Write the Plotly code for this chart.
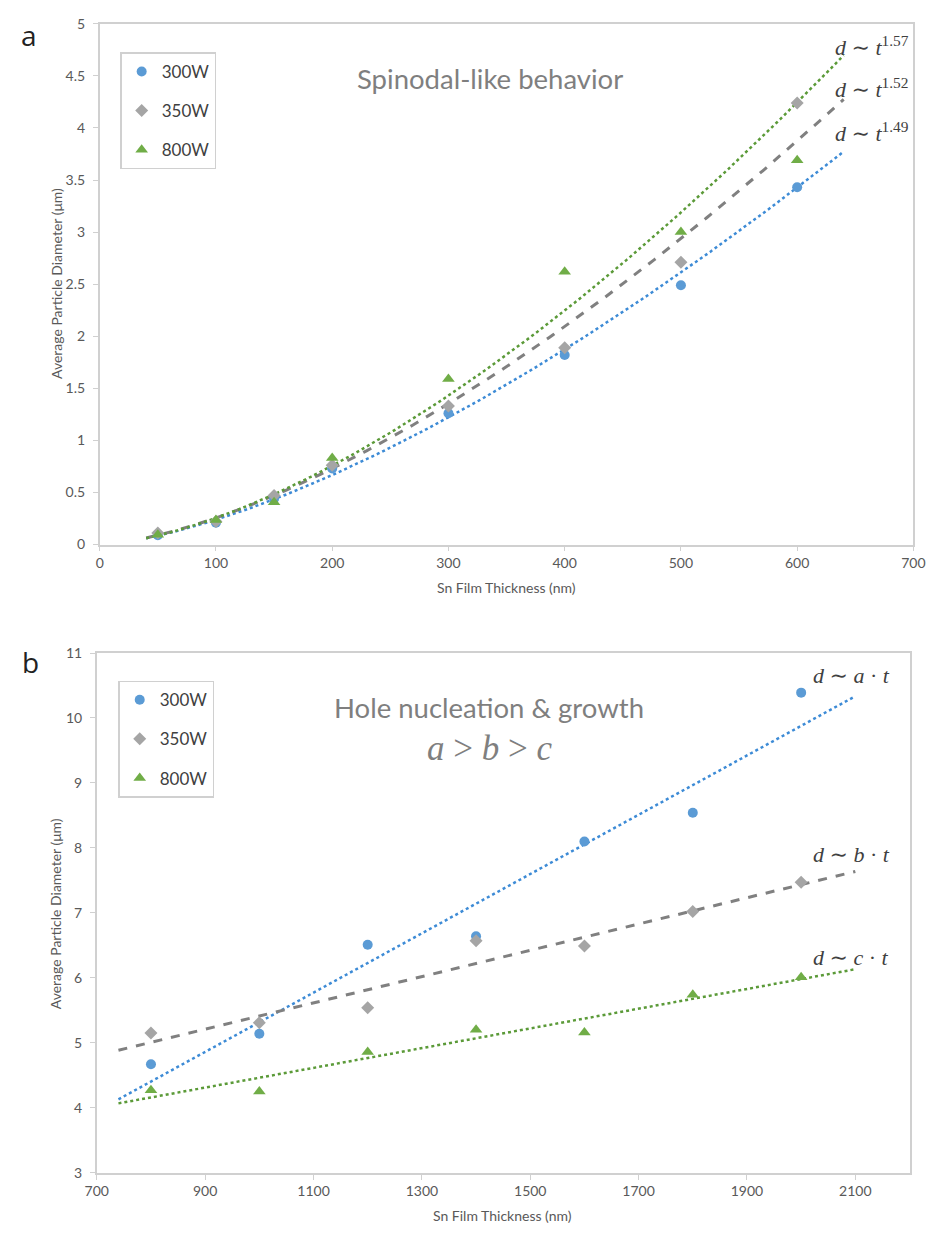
import numpy as np
import plotly.graph_objects as go

# ---- Panel a: thin films (spinodal-like dewetting) ----
thick_a = [50, 100, 150, 200, 300, 400, 500, 600]
d_300w_a = [0.09, 0.21, 0.44, 0.73, 1.26, 1.82, 2.49, 3.43]
d_350w_a = [0.11, 0.22, 0.47, 0.76, 1.33, 1.89, 2.71, 4.24]
d_800w_a = [0.095, 0.235, 0.405, 0.83, 1.59, 2.62, 3.00, 3.69]
exponents_a = {"300W": 1.49, "350W": 1.52, "800W": 1.57}
fit_span_a = (40, 640)

# ---- Panel b: thick films (hole nucleation & growth) ----
thick_b = [800, 1000, 1200, 1400, 1600, 1800, 2000]
d_300w_b = [4.67, 5.14, 6.51, 6.64, 8.10, 8.54, 10.39]
d_350w_b = [5.15, 5.31, 5.54, 6.57, 6.49, 7.02, 7.47]
d_800w_b = [4.27, 4.25, 4.86, 5.20, 5.16, 5.74, 6.01]
fit_span_b = (740, 2100)

labels = ["300W", "350W", "800W"]
marker_colors = {"300W": "#5B9BD5", "350W": "#A5A5A5", "800W": "#70AD47"}
marker_symbols = {"300W": "circle", "350W": "diamond", "800W": "triangle-up"}
marker_sizes = {"300W": 10, "350W": 10, "800W": 11}
fit_styles = {
    "300W": dict(color="#3D8BD6", dash="dot", width=2.5),
    "350W": dict(color="#808080", dash="dash", width=3),
    "800W": dict(color="#5B9A38", dash="dot", width=2.5),
}

W, H = 941, 1235
SANS = "Lato, Open Sans, sans-serif"
TICK_FONT = dict(family=SANS, size=14, color="#595959")
AXIS_COLOR = "#D0D0D0"
MATH_FONT = dict(family="Liberation Serif, DejaVu Serif, serif", size=22, color="#404040")

fig = go.Figure()

series_a = {"300W": d_300w_a, "350W": d_350w_a, "800W": d_800w_a}
series_b = {"300W": d_300w_b, "350W": d_350w_b, "800W": d_800w_b}

# Power-law trend lines d = A t^p, with p as printed, A from a log-space fit
for lab in labels:
    t = np.array(thick_a, float)
    d = np.array(series_a[lab], float)
    p = exponents_a[lab]
    lnA = np.mean(np.log(d) - p * np.log(t))
    tx = np.linspace(fit_span_a[0], fit_span_a[1], 200)
    fig.add_trace(go.Scatter(x=tx, y=np.exp(lnA) * tx ** p, mode="lines",
                             line=fit_styles[lab], showlegend=False,
                             hoverinfo="skip", xaxis="x", yaxis="y"))

# Linear trend lines for panel b
for lab in labels:
    slope, icpt = np.polyfit(thick_b, series_b[lab], 1)
    tx = np.array(fit_span_b, float)
    fig.add_trace(go.Scatter(x=tx, y=slope * tx + icpt, mode="lines",
                             line=fit_styles[lab], showlegend=False,
                             hoverinfo="skip", xaxis="x2", yaxis="y2"))

for lab in labels:
    mk = dict(color=marker_colors[lab], symbol=marker_symbols[lab], size=marker_sizes[lab])
    fig.add_trace(go.Scatter(x=thick_a, y=series_a[lab], mode="markers", name=lab,
                             marker=mk, legend="legend", legendgroup="a" + lab,
                             xaxis="x", yaxis="y"))
    fig.add_trace(go.Scatter(x=thick_b, y=series_b[lab], mode="markers", name=lab,
                             marker=mk, legend="legend2", legendgroup="b" + lab,
                             xaxis="x2", yaxis="y2"))

def py(px):
    return 1 - px / H

def px_x(px):
    return px / W

axis_common = dict(showgrid=False, zeroline=False, showline=True, linecolor=AXIS_COLOR,
                   linewidth=1.5, mirror=True, ticks="outside", ticklen=5,
                   tickcolor=AXIS_COLOR, tickfont=TICK_FONT)

legend_common = dict(bgcolor="white", bordercolor="#D0D0D0", borderwidth=1.5,
                     font=dict(family=SANS, size=17, color="#404040"),
                     tracegroupgap=14, xanchor="left", yanchor="top", itemwidth=30)

fig.update_layout(
    width=W, height=H, autosize=False,
    margin=dict(l=0, r=0, t=0, b=0),
    paper_bgcolor="white", plot_bgcolor="white",
    showlegend=True,
    xaxis=dict(domain=[px_x(90), px_x(925)], range=[0, 700], dtick=100, anchor="y", **axis_common),
    yaxis=dict(domain=[py(543), py(15)], range=[0, 5], dtick=0.5, anchor="x",
               ticklabelstandoff=5, **axis_common),
    xaxis2=dict(domain=[px_x(87), px_x(921)], range=[700, 2200], tick0=700, dtick=200,
                anchor="y2", **axis_common),
    yaxis2=dict(domain=[py(1180), py(653)], range=[3, 11], dtick=1, anchor="x2",
                ticklabelstandoff=5, **axis_common),
    legend=dict(x=px_x(111), y=py(44), **legend_common),
    legend2=dict(x=px_x(109), y=py(681), **legend_common),
)

def paper_text(text, x, y, font, **kw):
    return dict(text=text, x=px_x(x), y=py(y), xref="paper", yref="paper", showarrow=False,
                xanchor="center", yanchor="middle", font=font, **kw)

title_font = dict(family=SANS, size=27.5, color="#7F7F7F")
axis_title_font = dict(family=SANS, size=14, color="#595959")
letter_font = dict(family="Open Sans, sans-serif", size=28, color="#222222")

annotations = [
    # panel letters
    paper_text("a", 17, 26, letter_font),
    paper_text("b", 19, 662, letter_font),
    # regime titles
    paper_text("Spinodal-like behavior", 490, 70, title_font),
    paper_text("Hole nucleation &amp; growth", 489, 708, title_font),
    paper_text("<i>a</i> &gt; <i>b</i> &gt; <i>c</i>", 490, 750,
               dict(family="Liberation Serif, DejaVu Serif, serif", size=35, color="#7F7F7F")),
    # axis titles
    paper_text("Sn Film Thickness (nm)", 507, 587, axis_title_font),
    paper_text("Sn Film Thickness (nm)", 503, 1223, axis_title_font),
    paper_text("Average Particle Diameter (μm)", 45, 278, axis_title_font, textangle=-90),
    paper_text("Average Particle Diameter (μm)", 45, 917, axis_title_font, textangle=-90),
]

# trend-line equations
eq_a = [("800W", 4.79), ("350W", 4.38), ("300W", 3.96)]
for lab, yv in eq_a:
    annotations.append(dict(text=f"<i>d</i> ∼ <i>t</i><sup>{exponents_a[lab]:.2f}</sup>",
                            x=631, y=yv, xref="x", yref="y", xanchor="left", yanchor="middle",
                            showarrow=False, font=MATH_FONT))
eq_b = [("a", 10.66), ("b", 7.90), ("c", 6.31)]
for coef, yv in eq_b:
    annotations.append(dict(text=f"<i>d</i> ∼ <i>{coef}</i> · <i>t</i>",
                            x=2018, y=yv, xref="x2", yref="y2", xanchor="left", yanchor="middle",
                            showarrow=False, font=MATH_FONT))

fig.update_layout(annotations=annotations)
fig.write_html("out.html")
